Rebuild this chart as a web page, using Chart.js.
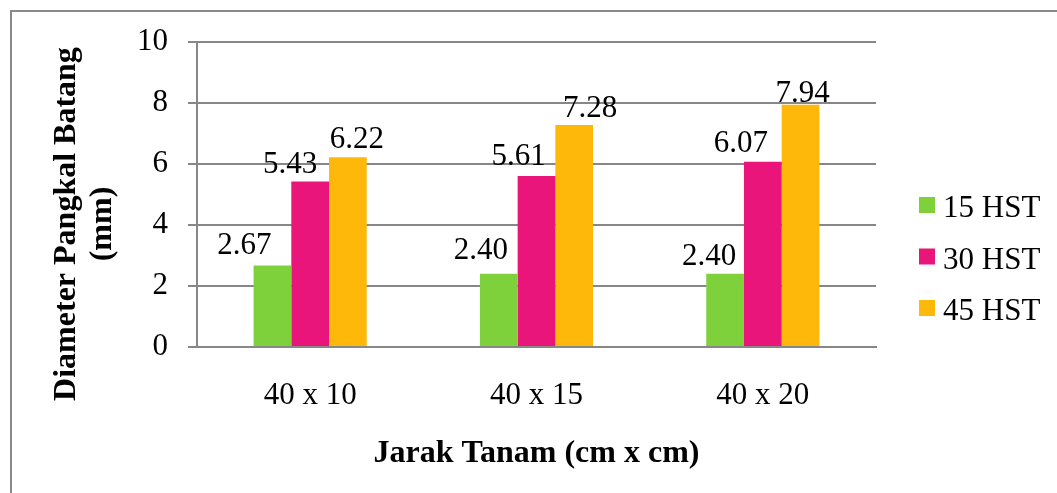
<!DOCTYPE html>
<html>
<head>
<meta charset="utf-8">
<script src="https://cdn.jsdelivr.net/npm/chart.js@4.4.1/dist/chart.umd.min.js"></script>
<style>
  html, body { margin: 0; padding: 0; background: #ffffff; }
  #wrap { position: relative; width: 1057px; height: 493px; }
  canvas { display: block; }
</style>
</head>
<body>
<div id="wrap"><canvas id="c" width="1057" height="493"></canvas></div>
<script>
// ---- data ----
const categories = ["40 x 10", "40 x 15", "40 x 20"];
const seriesNames = ["15 HST", "30 HST", "45 HST"];
const hst15 = [2.67, 2.40, 2.40];
const hst30 = [5.43, 5.61, 6.07];
const hst45 = [6.22, 7.28, 7.94];
const yTicks = [0, 2, 4, 6, 8, 10];
const yTitleLines = ["Diameter Pangkal Batang", "(mm)"];
const xTitle = "Jarak Tanam (cm x cm)";

// ---- styles ----
const colors = ["#7fd13b", "#ea157a", "#feb80a"];
const gridColor = "#878787";
const fontFamily = "'Liberation Serif', 'Times New Roman', serif";
// label nudges (px), as placed in the original
const labelDx = [[-28, -18, -16], [-20, -18, -22], [9, 16, 2]];
const labelGap = [[12, 15, 9], [8, 11, 10], [9, 8, 3]];

const values = [hst15, hst30, hst45];

const overlay = {
  id: 'overlay',
  afterDatasetsDraw(chart) {
    const ctx = chart.ctx;
    ctx.save();
    ctx.fillStyle = '#000';
    ctx.font = `31px ${fontFamily}`;
    ctx.textAlign = 'center';
    ctx.textBaseline = 'alphabetic';
    chart.data.datasets.forEach((ds, di) => {
      const meta = chart.getDatasetMeta(di);
      meta.data.forEach((bar, i) => {
        ctx.fillText(ds.data[i].toFixed(2), bar.x + labelDx[di][i], bar.y - labelGap[di][i]);
      });
    });
    ctx.restore();
  },
  afterDraw(chart) {
    const ctx = chart.ctx;
    const area = chart.chartArea;
    ctx.save();
    // outer border
    ctx.strokeStyle = '#8a8a8a';
    ctx.lineWidth = 2;
    ctx.strokeRect(11, 11, 1100, 600);

    // x title
    ctx.fillStyle = '#000';
    ctx.font = `bold 32px ${fontFamily}`;
    ctx.textAlign = 'center';
    ctx.textBaseline = 'alphabetic';
    ctx.fillText(xTitle, (area.left + area.right) / 2, 462);

    // y title (rotated)
    ctx.save();
    ctx.translate(0, 224);
    ctx.rotate(-Math.PI / 2);
    ctx.fillText(yTitleLines[0], 0, 75);
    ctx.fillText(yTitleLines[1], 0, 111);
    ctx.restore();

    // legend
    ctx.font = `31px ${fontFamily}`;
    ctx.textAlign = 'left';
    seriesNames.forEach((name, i) => {
      const base = 217 + i * 51.5;
      ctx.fillStyle = colors[i];
      ctx.fillRect(919, base - 20, 16, 16);
      ctx.fillStyle = '#000';
      ctx.fillText(name, 943, base);
    });
    ctx.restore();
  }
};

new Chart(document.getElementById('c'), {
  type: 'bar',
  data: {
    labels: categories,
    datasets: seriesNames.map((name, i) => ({
      label: name,
      data: values[i],
      backgroundColor: colors[i],
      borderWidth: 0,
      categoryPercentage: 0.5,
      barPercentage: 1.0
    }))
  },
  options: {
    responsive: false,
    animation: false,
    devicePixelRatio: 1,
    layout: { padding: { left: 0, top: 42, right: 181, bottom: 0 } },
    plugins: {
      legend: { display: false },
      tooltip: { enabled: false },
      title: { display: false }
    },
    scales: {
      x: {
        grid: { display: false },
        border: { display: true, color: gridColor, width: 2 },
        ticks: {
          color: '#000',
          font: { family: fontFamily, size: 31 },
          padding: 22
        },
        afterFit(scale) { scale.height = 146; }
      },
      y: {
        min: 0,
        max: 10,
        afterBuildTicks(scale) { scale.ticks = yTicks.map(v => ({ value: v })); },
        grid: { color: gridColor, lineWidth: 2, tickLength: 9 },
        border: { display: true, color: gridColor, width: 2 },
        ticks: {
          color: '#000',
          font: { family: fontFamily, size: 31 },
          padding: 20
        },
        afterFit(scale) { scale.width = 197; }
      }
    }
  },
  plugins: [overlay]
});
</script>
</body>
</html>
